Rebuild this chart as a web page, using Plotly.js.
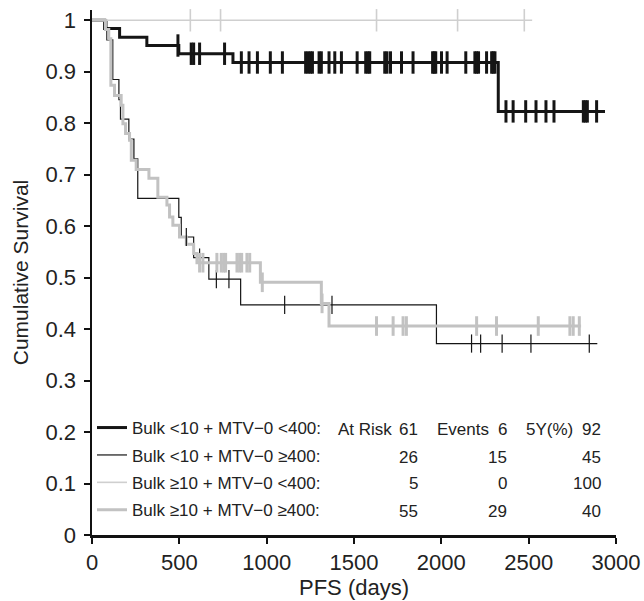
<!DOCTYPE html>
<html><head><meta charset="utf-8">
<script src="https://cdn.plot.ly/plotly-3.0.1.min.js"></script>
<style>html,body{margin:0;padding:0;background:#fff}</style>
</head><body><div id="chart" style="width:644px;height:601px"></div>
<script>
// ---- legend / table data ----
const groupNames = ['Bulk <10 + MTV\u22120 <400:', 'Bulk <10 + MTV\u22120 \u2265400:', 'Bulk \u226510 + MTV\u22120 <400:', 'Bulk \u226510 + MTV\u22120 \u2265400:'];
const atRisk = [61, 26, 5, 55];
const events = [6, 15, 0, 29];
const fiveYear = [92, 45, 100, 40];
const xTicks = [0, 500, 1000, 1500, 2000, 2500, 3000];
const yTicks = [0, 0.1, 0.2, 0.3, 0.4, 0.5, 0.6, 0.7, 0.8, 0.9, 1];

// ---- group 1: Bulk <10 + MTV-0 <400 ----
const g1Time = [0, 72, 158, 314, 497, 807, 2326, 2937];
const g1Surv = [1, 0.984, 0.967, 0.951, 0.935, 0.918, 0.823, 0.823];
const g1Cens = [492, 568, 582, 616, 759, 855, 899, 947, 1021, 1090, 1223, 1237, 1250, 1262, 1300, 1313, 1357, 1390, 1428, 1518, 1567, 1580, 1590, 1676, 1689, 1709, 1772, 1838, 1950, 1959, 1968, 2001, 2033, 2140, 2192, 2202, 2213, 2259, 2288, 2297, 2307, 2370, 2411, 2483, 2542, 2599, 2645, 2813, 2824, 2836, 2889];

// ---- group 2: Bulk <10 + MTV-0 >=400 ----
const g2Time = [0, 85, 119, 154, 163, 211, 240, 262, 497, 511, 582, 669, 851, 1972, 2893];
const g2Surv = [1, 0.962, 0.885, 0.846, 0.808, 0.769, 0.731, 0.654, 0.617, 0.579, 0.539, 0.497, 0.447, 0.372, 0.372];
const g2Cens = [540, 616, 712, 784, 1103, 1374, 2173, 2225, 2348, 2513, 2847];

// ---- group 3: Bulk >=10 + MTV-0 <400 ----
const g3Time = [0, 2520];
const g3Surv = [1, 1];
const g3Cens = [563, 736, 1629, 2093, 2475];

// ---- group 4: Bulk >=10 + MTV-0 >=400 ----
const g4Time = [0, 77, 96, 108, 129, 167, 177, 192, 215, 225, 253, 326, 377, 429, 444, 463, 501, 540, 582, 601, 964, 1313, 1357, 2800];
const g4Surv = [1, 0.982, 0.964, 0.874, 0.854, 0.835, 0.799, 0.780, 0.767, 0.728, 0.710, 0.693, 0.656, 0.641, 0.618, 0.602, 0.579, 0.565, 0.547, 0.529, 0.491, 0.450, 0.406, 0.406];
const g4Cens = [616, 635, 715, 740, 754, 765, 830, 845, 857, 887, 903, 975, 1317, 1629, 1724, 1781, 1800, 2202, 2316, 2555, 2736, 2755, 2790];

function stepAt(times, surv, t) {
  let v = surv[0];
  for (let i = 0; i < times.length; i++) { if (times[i] <= t) v = surv[i]; }
  return v;
}

const styles = [
  {color: '#151515', width: 3, mark: 16, mw: 3},
  {color: '#151515', width: 1.2, mark: 13, mw: 1.2},
  {color: '#cfcfcf', width: 1.6, mark: 16, mw: 1.6},
  {color: '#c2c2c2', width: 3, mark: 14, mw: 3}
];
const times = [g1Time, g2Time, g3Time, g4Time];
const survs = [g1Surv, g2Surv, g3Surv, g4Surv];
const cens = [g1Cens, g2Cens, g3Cens, g4Cens];

const traces = [];
for (let g = 0; g < 4; g++) {
  traces.push({
    type: 'scatter', mode: 'lines', x: times[g], y: survs[g], name: groupNames[g],
    legendgroup: 'g' + g, line: {shape: 'hv', color: styles[g].color, width: styles[g].width},
    hoverinfo: 'skip', cliponaxis: false
  });
}
for (let g = 0; g < 4; g++) {
  traces.push({
    type: 'scatter', mode: 'markers', x: cens[g], y: cens[g].map(t => stepAt(times[g], survs[g], t)),
    showlegend: false, legendgroup: 'g' + g, cliponaxis: false,
    marker: {symbol: 'line-ns', size: styles[g].mark, color: styles[g].color,
             line: {color: styles[g].color, width: styles[g].mw}},
    hoverinfo: 'skip'
  });
}

// table annotations (positions in paper coordinates of the plot area)
const L = 92, W = 524, T = 10, H = 525;
function px(xp) { return (xp - L) / W; }
function py(yp) { return (T + H - yp) / H; }
const rowY = [429.5, 457, 484, 511.5];
const annFont = {family: 'Liberation Sans, Arial, sans-serif', size: 17, color: '#222'};
const annotations = [];
function ann(text, x, y, anchor) {
  annotations.push({text: text, xref: 'paper', yref: 'paper', x: px(x), y: py(y), xanchor: anchor, yanchor: 'middle', showarrow: false, font: annFont, borderpad: 0});
}
ann('At Risk', 393, rowY[0], 'right');
ann('Events', 436, rowY[0], 'left');
ann('5Y(%)', 525, rowY[0], 'left');
for (let g = 0; g < 4; g++) {
  ann(String(atRisk[g]), 419, rowY[g], 'right');
  ann(String(events[g]), 508, rowY[g], 'right');
  ann(String(fiveYear[g]), 602, rowY[g], 'right');
}

const axisFont = {family: 'Liberation Sans, Arial, sans-serif', size: 22, color: '#222'};
const layout = {
  width: 644, height: 601,
  margin: {l: L, r: 644 - L - W, t: T, b: 601 - T - H},
  paper_bgcolor: '#fff', plot_bgcolor: '#fff',
  showlegend: true,
  legend: {x: 0, xanchor: 'left', y: py(410), yanchor: 'top', bgcolor: 'rgba(0,0,0,0)',
           font: {family: 'Liberation Sans, Arial, sans-serif', size: 17, color: '#222'},
           tracegroupgap: 2.3, traceorder: 'grouped', itemwidth: 30},
  xaxis: {range: [0, 3000], tickvals: xTicks, ticktext: xTicks.map(String), showgrid: false, zeroline: false,
          showline: true, linecolor: '#111', linewidth: 2.5, ticks: 'outside', ticklen: 6, tickwidth: 2, tickcolor: '#111',
          tickfont: axisFont, ticklabelstandoff: 0,
          title: {text: 'PFS (days)', font: {family: 'Liberation Sans, Arial, sans-serif', size: 22, color: '#222'}, standoff: 6}},
  yaxis: {range: [0, 1.02], tickvals: yTicks, ticktext: yTicks.map(String), showgrid: false, zeroline: false,
          showline: true, linecolor: '#111', linewidth: 2.5, ticks: 'outside', ticklen: 6, tickwidth: 2, tickcolor: '#111',
          tickfont: axisFont, ticklabelstandoff: 3,
          title: {text: 'Cumulative Survival', font: {family: 'Liberation Sans, Arial, sans-serif', size: 21, color: '#222'}, standoff: 11}},
  annotations: annotations
};
Plotly.newPlot('chart', traces, layout, {staticPlot: true, displayModeBar: false});
</script>
</body></html>
